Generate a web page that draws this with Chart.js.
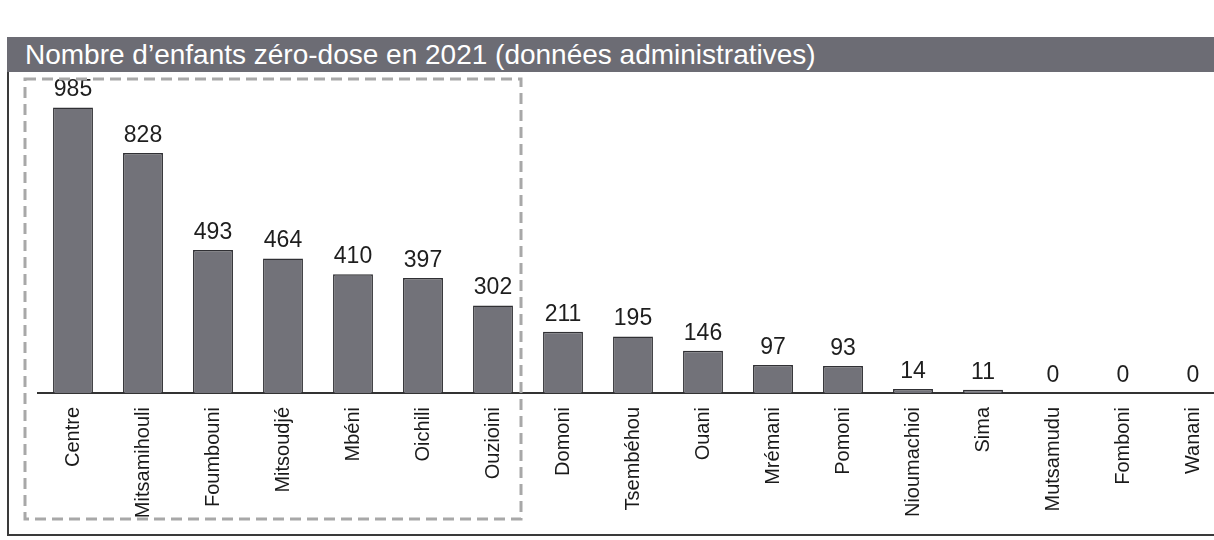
<!DOCTYPE html>
<html lang="fr">
<head>
  <meta charset="UTF-8">
  <title>Nombre d'enfants zéro-dose en 2021</title>
  <script src="https://cdn.jsdelivr.net/npm/chart.js"></script>
  <style>
    body { margin: 0; width: 1214px; height: 540px; overflow: hidden; background: #fff; position: relative; font-family: "Liberation Sans", Arial, sans-serif; }
    #frame { position: absolute; left: 7px; top: 70px; width: 1220px; height: 464px; border-left: 2px solid #3a3a3a; border-bottom: 2px solid #3a3a3a; }
    #titlebar { position: absolute; left: 7px; top: 37px; width: 1220px; height: 35px; background: #6c6c74; color: #fff;
      font-size: 28px; line-height: 35px; padding-left: 18px; box-sizing: border-box; white-space: nowrap; }
    #wrap { position: absolute; left: 0; top: 0; width: 1240px; height: 540px; }
  </style>
</head>
<body>
  <div id="frame"></div>
  <div id="titlebar">Nombre d’enfants zéro-dose en 2021 (données administratives)</div>
  <div id="wrap"><canvas id="zeroDose" width="1240" height="540"></canvas></div>
  <script>
    const districts = ['Centre', 'Mitsamihouli', 'Foumbouni', 'Mitsoudjé', 'Mbéni', 'Oichili', 'Ouzioini',
      'Domoni', 'Tsembéhou', 'Ouani', 'Mrémani', 'Pomoni', 'Nioumachioi', 'Sima', 'Mutsamudu', 'Fomboni', 'Wanani'];
    const zeroDose = [985, 828, 493, 464, 410, 397, 302, 211, 195, 146, 97, 93, 14, 11, 0, 0, 0];
    const highlighted = 7; // first districts framed by the dashed box

    const valueLabels = {
      id: 'valueLabels',
      afterDatasetsDraw(chart) {
        const ctx = chart.ctx;
        const meta = chart.getDatasetMeta(0);
        ctx.save();
        ctx.font = '23px "Liberation Sans", Arial, sans-serif';
        ctx.fillStyle = '#1e1e1e';
        ctx.textAlign = 'center';
        ctx.textBaseline = 'bottom';
        meta.data.forEach((bar, i) => {
          ctx.fillText(String(zeroDose[i]), bar.x, bar.y - 6);
        });
        ctx.restore();
      }
    };

    const dashedBox = {
      id: 'dashedBox',
      afterDraw(chart) {
        const x = chart.scales.x;
        const half = (x.getPixelForValue(1) - x.getPixelForValue(0)) / 2;
        const left = x.getPixelForValue(0) - half - 13;
        const right = x.getPixelForValue(highlighted - 1) + half - 7;
        const ctx = chart.ctx;
        ctx.save();
        ctx.strokeStyle = '#a8a8a8';
        ctx.lineWidth = 3;
        ctx.setLineDash([11, 6]);
        ctx.strokeRect(left, 79, right - left, 440);
        ctx.restore();
      }
    };

    new Chart(document.getElementById('zeroDose'), {
      type: 'bar',
      data: {
        labels: districts,
        datasets: [{
          data: zeroDose,
          backgroundColor: '#727279',
          borderColor: '#303034',
          borderWidth: 1.5,
          categoryPercentage: 1,
          barPercentage: 0.57
        }]
      },
      options: {
        responsive: false,
        animation: false,
        layout: { padding: { top: 80, left: 38, right: 12, bottom: 0 } },
        plugins: { legend: { display: false }, tooltip: { enabled: false } },
        scales: {
          y: { display: false, min: 0, max: 1080 },
          x: {
            afterFit: s => { s.height = 147; },
            grid: { display: false },
            border: { color: '#333', width: 2 },
            ticks: {
              minRotation: 90, maxRotation: 90, padding: 6, color: '#1a1a1a',
              font: { family: '"Liberation Sans", Arial, sans-serif', size: 20 }
            }
          }
        }
      },
      plugins: [valueLabels, dashedBox]
    });
  </script>
</body>
</html>
